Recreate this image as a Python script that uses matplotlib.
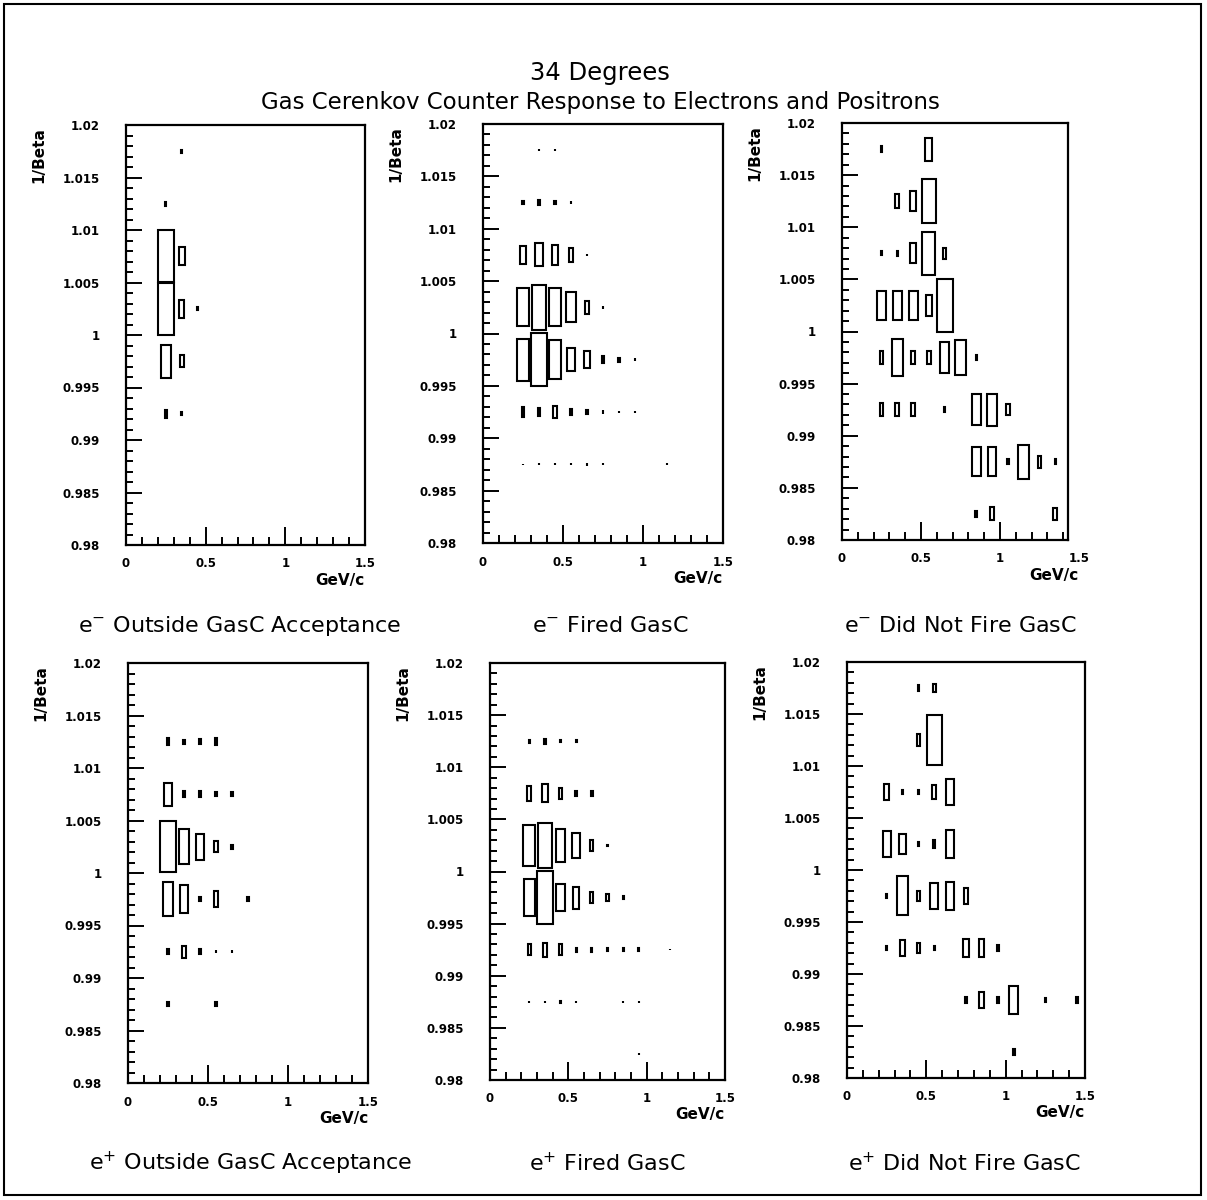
import numpy as np
import matplotlib
matplotlib.use("Agg")
import matplotlib.pyplot as plt
from matplotlib.patches import Rectangle
from matplotlib.ticker import FixedLocator, MultipleLocator, FixedFormatter

W, H = 1207, 1200

# ---------------- data ----------------
# momentum bin centres (GeV/c), bin width 0.1
p_centers = [0.05, 0.15, 0.25, 0.35, 0.45, 0.55, 0.65, 0.75,
             0.85, 0.95, 1.05, 1.15, 1.25, 1.35, 1.45]
p_width = 0.1
# 1/beta bin centres (top row first), bin width 0.005
ib_centers = [1.0175, 1.0125, 1.0075, 1.0025, 0.9975, 0.9925, 0.9875, 0.9825]
ib_width = 0.005

x_tick_vals = [0, 0.5, 1, 1.5]
x_tick_labels = ["0", "0.5", "1", "1.5"]
y_tick_vals = [0.98, 0.985, 0.99, 0.995, 1.0, 1.005, 1.01, 1.015, 1.02]
y_tick_labels = ["0.98", "0.985", "0.99", "0.995", "1", "1.005", "1.01", "1.015", "1.02"]

# relative bin contents (box size, % of the largest bin); rows follow ib_centers
em_outside = [
    [0, 0, 0, 5, 0, 0, 0, 0, 0, 0, 0, 0, 0, 0, 0],
    [0, 0, 8, 0, 0, 0, 0, 0, 0, 0, 0, 0, 0, 0, 0],
    [0, 0, 100, 35, 0, 0, 0, 0, 0, 0, 0, 0, 0, 0, 0],
    [0, 0, 100, 34, 6, 0, 0, 0, 0, 0, 0, 0, 0, 0, 0],
    [0, 0, 62, 22, 0, 0, 0, 0, 0, 0, 0, 0, 0, 0, 0],
    [0, 0, 16, 6, 0, 0, 0, 0, 0, 0, 0, 0, 0, 0, 0],
    [0, 0, 0, 0, 0, 0, 0, 0, 0, 0, 0, 0, 0, 0, 0],
    [0, 0, 0, 0, 0, 0, 0, 0, 0, 0, 0, 0, 0, 0, 0],
]
em_fired = [
    [0, 0, 0, 3, 3, 0, 0, 0, 0, 0, 0, 0, 0, 0, 0],
    [0, 0, 7, 10, 7, 5, 0, 0, 0, 0, 0, 0, 0, 0, 0],
    [0, 0, 36, 44, 37, 26, 5, 0, 0, 0, 0, 0, 0, 0, 0],
    [0, 0, 73, 85, 73, 57, 26, 6, 0, 0, 0, 0, 0, 0, 0],
    [0, 0, 80, 100, 74, 44, 33, 14, 7, 5, 0, 0, 0, 0, 0],
    [0, 0, 18, 16, 22, 10, 8, 6, 4, 5, 0, 0, 0, 0, 0],
    [0, 0, 3, 4, 4, 4, 5, 4, 0, 0, 0, 4, 0, 0, 0],
    [0, 0, 0, 0, 0, 0, 0, 0, 0, 0, 0, 0, 0, 0, 0],
]
em_nofire = [
    [0, 0, 10, 0, 0, 44, 0, 0, 0, 0, 0, 0, 0, 0, 0],
    [0, 0, 0, 27, 39, 84, 0, 0, 0, 0, 0, 0, 0, 0, 0],
    [0, 0, 8, 10, 39, 83, 22, 0, 0, 0, 0, 0, 0, 0, 0],
    [0, 0, 57, 55, 57, 40, 100, 0, 0, 0, 0, 0, 0, 0, 0],
    [0, 0, 25, 71, 26, 25, 58, 67, 10, 0, 0, 0, 0, 0, 0],
    [0, 0, 24, 25, 25, 0, 10, 0, 60, 62, 22, 0, 0, 0, 0],
    [0, 0, 0, 0, 0, 0, 0, 0, 55, 55, 10, 66, 22, 10, 0],
    [0, 0, 0, 0, 0, 0, 0, 0, 12, 25, 0, 0, 0, 24, 0],
]
ep_outside = [
    [0, 0, 0, 0, 0, 0, 0, 0, 0, 0, 0, 0, 0, 0, 0],
    [0, 0, 14, 8, 10, 14, 0, 0, 0, 0, 0, 0, 0, 0, 0],
    [0, 0, 44, 12, 12, 7, 7, 0, 0, 0, 0, 0, 0, 0, 0],
    [0, 0, 97, 66, 50, 21, 7, 0, 0, 0, 0, 0, 0, 0, 0],
    [0, 0, 64, 53, 7, 30, 0, 7, 0, 0, 0, 0, 0, 0, 0],
    [0, 0, 9, 23, 9, 6, 6, 0, 0, 0, 0, 0, 0, 0, 0],
    [0, 0, 7, 0, 0, 7, 0, 0, 0, 0, 0, 0, 0, 0, 0],
    [0, 0, 0, 0, 0, 0, 0, 0, 0, 0, 0, 0, 0, 0, 0],
]
ep_fired = [
    [0, 0, 0, 0, 0, 0, 0, 0, 0, 0, 0, 0, 0, 0, 0],
    [0, 0, 6, 10, 4, 5, 0, 0, 0, 0, 0, 0, 0, 0, 0],
    [0, 0, 28, 35, 20, 10, 10, 0, 0, 0, 0, 0, 0, 0, 0],
    [0, 0, 77, 88, 63, 48, 20, 3, 0, 0, 0, 0, 0, 0, 0],
    [0, 0, 70, 100, 52, 42, 20, 14, 6, 0, 0, 0, 0, 0, 0],
    [0, 0, 20, 27, 20, 8, 7, 6, 5, 6, 0, 2, 0, 0, 0],
    [0, 0, 3, 3, 3, 3, 0, 0, 3, 3, 0, 0, 0, 0, 0],
    [0, 0, 0, 0, 0, 0, 0, 0, 0, 3, 0, 0, 0, 0, 0],
]
ep_nofire = [
    [0, 0, 0, 0, 10, 17, 0, 0, 0, 0, 0, 0, 0, 0, 0],
    [0, 0, 0, 0, 22, 97, 0, 0, 0, 0, 0, 0, 0, 0, 0],
    [0, 0, 31, 8, 7, 28, 50, 0, 0, 0, 0, 0, 0, 0, 0],
    [0, 0, 51, 39, 8, 14, 54, 0, 0, 0, 0, 0, 0, 0, 0],
    [0, 0, 9, 75, 18, 50, 53, 30, 0, 0, 0, 0, 0, 0, 0],
    [0, 0, 9, 29, 18, 9, 0, 35, 33, 10, 0, 0, 0, 0, 0],
    [0, 0, 0, 0, 0, 0, 0, 10, 30, 10, 53, 0, 9, 0, 10],
    [0, 0, 0, 0, 0, 0, 0, 0, 0, 0, 12, 0, 0, 0, 0],
]

titles = [r"e$^{-}$ Outside GasC Acceptance", r"e$^{-}$ Fired GasC", r"e$^{-}$ Did Not Fire GasC",
          r"e$^{+}$ Outside GasC Acceptance", r"e$^{+}$ Fired GasC", r"e$^{+}$ Did Not Fire GasC"]
panels = [em_outside, em_fired, em_nofire, ep_outside, ep_fired, ep_nofire]

# ---------------- layout (pixels: left, top, right(x=1.5), bottom) ----------------
boxes_px = [(126, 125, 365, 545), (483, 124, 723, 543), (842, 123, 1079, 540),
            (128, 663, 368, 1083), (490, 663, 725, 1080), (847, 662, 1085, 1078)]
title_px = [(240, 626), (610, 626), (960, 626), (251, 1163), (607, 1163), (964, 1163)]
frame_right = [1.5, 1.5, 1.43, 1.5, 1.5, 1.5]

fig = plt.figure(figsize=(W / 100, H / 100), dpi=100)
fig.patch.set_facecolor("white")

# outer frame
fig.patches.append(Rectangle((4 / W, 1 - 1195 / H), (1201 - 4) / W, (1195 - 4) / H,
                             transform=fig.transFigure, fill=False, lw=1.5, ec="black"))

fig.text(600 / W, 1 - 73 / H, "34 Degrees", ha="center", va="center", fontsize=17.5)
fig.text(600 / W, 1 - 103 / H, "Gas Cerenkov Counter Response to Electrons and Positrons",
         ha="center", va="center", fontsize=16.5)

for k, (data, (l, t, r, b)) in enumerate(zip(panels, boxes_px)):
    ax = fig.add_axes([l / W, 1 - b / H, (r - l) / W, (b - t) / H])
    ax.set_xlim(0, 1.5)
    ax.set_ylim(0.98, 1.02)
    for i, yc in enumerate(ib_centers):
        for j, xc in enumerate(p_centers):
            v = data[i][j]
            if v <= 0:
                continue
            f = v / 100.0
            w = p_width * f
            h = ib_width * f
            ax.add_patch(Rectangle((xc - w / 2, yc - h / 2), w, h, fill=False,
                                   lw=1.5, ec="black", joinstyle="miter"))
    for s in ax.spines.values():
        s.set_linewidth(1.6)
    ax.xaxis.set_major_locator(FixedLocator(x_tick_vals))
    ax.xaxis.set_major_formatter(FixedFormatter(x_tick_labels))
    ax.xaxis.set_minor_locator(MultipleLocator(0.1))
    ax.yaxis.set_major_locator(FixedLocator(y_tick_vals))
    ax.yaxis.set_major_formatter(FixedFormatter(y_tick_labels))
    ax.yaxis.set_minor_locator(MultipleLocator(0.001))
    ax.tick_params(axis="y", which="major", direction="in", length=11.5, width=1.4, pad=19)
    ax.tick_params(axis="y", which="minor", direction="in", length=5, width=1.4)
    ax.tick_params(axis="x", which="major", direction="in", length=13, width=1.4, pad=9)
    ax.tick_params(axis="x", which="minor", direction="in", length=5.5, width=1.4)
    ax.tick_params(top=False, right=False, which="both")
    fr = frame_right[k]
    if fr < 1.5:
        ax.spines["right"].set_position(("data", fr))
        ax.spines["top"].set_bounds(0, fr)
        ax.spines["bottom"].set_bounds(0, fr)
        # the frame stops short of 1.5: hide tick marks beyond it
        ax.xaxis.set_minor_locator(FixedLocator([v / 10 for v in range(1, 15) if v % 5]))
        majors = ax.xaxis.get_major_ticks()
        majors[-1].tick1line.set_visible(False)
    for lab in ax.get_xticklabels() + ax.get_yticklabels():
        lab.set_fontsize(8.5)
        lab.set_fontweight("bold")
    # axis titles
    fig.text(r / W, 1 - (b + 35) / H, "GeV/c", ha="right", va="center",
             fontsize=11, fontweight="bold")
    fig.text((l - 87) / W, 1 - (t + 2) / H, "1/Beta", rotation=90, ha="center", va="top",
             fontsize=11, fontweight="bold")
    cx, cy = title_px[k]
    fig.text(cx / W, 1 - cy / H, titles[k], ha="center", va="center", fontsize=16)

fig.savefig("out.png", dpi=100, facecolor="white")
